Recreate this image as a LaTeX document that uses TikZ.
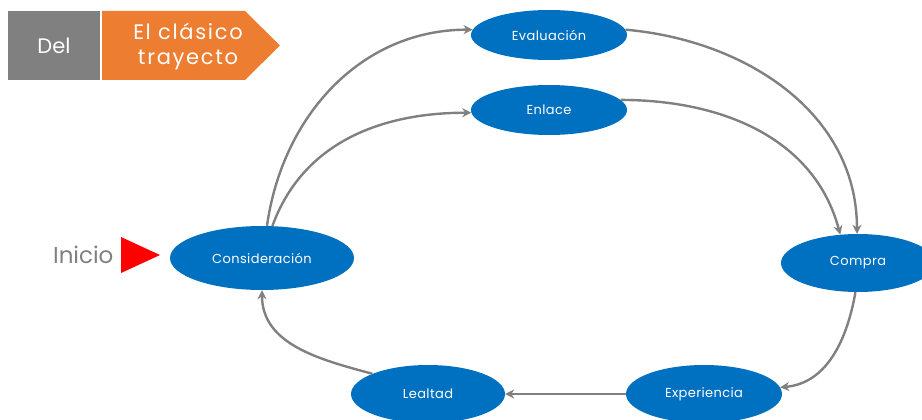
\documentclass[tikz,border=0pt]{standalone}
\usepackage{fontspec}
\setmainfont{Poppins}
\usetikzlibrary{shapes.geometric,arrows.meta}

\definecolor{etapa}{HTML}{0070C0}
\definecolor{flecha}{HTML}{808080}
\definecolor{naranja}{HTML}{ED7D31}

\tikzset{
  etapa/.style={ellipse, fill=etapa, text=white, inner sep=0pt, font=\fontsize{13}{15}\selectfont\addfontfeature{LetterSpace=3}},
  paso/.style={draw=flecha, line width=2.4pt, -{Stealth[length=9pt,width=9pt]}}
}

\begin{document}
\begin{tikzpicture}[x=1pt, y=1pt]
    \useasboundingbox (0,0) rectangle (922,-420);

    % Encabezado
    \fill[flecha] (8,-11) rectangle (100,-80);
    \node[text=white, font=\fontsize{21}{23}\selectfont] (del) at (54,-46) {Del};
    \fill[naranja] (102,-11) -- (245,-11) -- (280,-45.5) -- (245,-80) -- (102,-80) -- cycle;
    \node[text=white, align=center, font=\fontsize{21}{25}\selectfont\addfontfeature{LetterSpace=8}] (titulo) at (188,-46) {El clásico\\trayecto};

    % Etapas
    \node[etapa, minimum width=156, minimum height=50] (eval) at (549,-35) {Evaluación};
    \node[etapa, minimum width=156, minimum height=50] (enlace) at (549,-110) {Enlace};
    \node[etapa, minimum width=184, minimum height=64] (cons) at (262,-258) {Consideración};
    \node[etapa, minimum width=154, minimum height=58] (compra) at (858,-263) {Compra};
    \node[etapa, minimum width=156, minimum height=58] (exp) at (704,-394) {Experiencia};
    \node[etapa, minimum width=154, minimum height=58] (lealtad) at (428,-394) {Lealtad};

    % Inicio
    \node[text=flecha, font=\fontsize{23}{25}\selectfont, anchor=east] (inicio) at (117,-255) {Inicio};
    \fill[red] (121,-237) -- (160,-255) -- (121,-273) -- cycle;

    % Trayecto
    \draw[paso] ([xshift=5pt]cons.north) to[out=82, in=180] (eval.176);
    \draw[paso] (cons.72) to[out=70, in=180] (enlace.182);
    \draw[paso] (eval.4) to[out=-5, in=90] (compra.92);
    \draw[paso] (enlace.8) to[out=0, in=105] (compra.122);
    \draw[paso] (compra.265) to[out=-100, in=5] (exp.5);
    \draw[paso] (exp.west) -- (lealtad.east);
    \draw[paso] (lealtad.160) to[out=165, in=-90] (cons.south);
\end{tikzpicture}
\end{document}
